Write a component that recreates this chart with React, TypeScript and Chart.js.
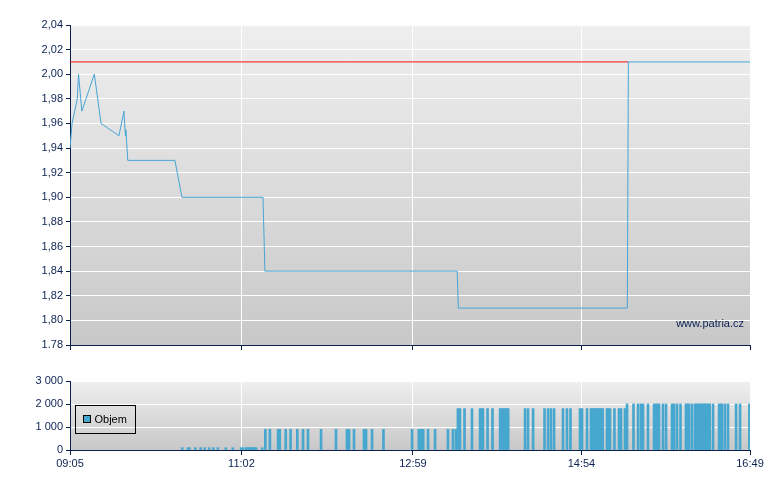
import { useEffect, useRef } from 'react';
import { Chart, registerables } from 'chart.js';

Chart.register(...registerables);

// ---- data ----
// time is expressed in minutes after 09:05
const timeTickMinutes = [0, 117, 234, 349, 464];
const timeTickLabels = ['09:05', '11:02', '12:59', '14:54', '16:49'];

const priceTicks = [1.78, 1.8, 1.82, 1.84, 1.86, 1.88, 1.9, 1.92, 1.94, 1.96, 1.98, 2.0, 2.02, 2.04];
const priceTickLabels = ['1.78', '1,80', '1,82', '1,84', '1,86', '1,88', '1,90', '1,92', '1,94', '1,96', '1,98', '2,00', '2,02', '2,04'];

const volumeTicks = [0, 1000, 2000, 3000];
const volumeTickLabels = ['0', '1 000', '2 000', '3 000'];

const priceTimes = [0, 1.4, 5, 5.8, 8.1, 16.6, 21.2, 33.4, 36.8, 37.8, 38.1, 38.4, 39.4, 71.6, 76.4, 131.7, 133.0, 264.2, 265.0, 380.3, 381.0, 464];
const priceValues = [1.94, 1.96, 1.98, 2.0, 1.97, 2.0, 1.96, 1.95, 1.97, 1.95, 1.955, 1.95, 1.93, 1.93, 1.9, 1.9, 1.84, 1.84, 1.81, 1.81, 2.01, 2.01];

const previousClose = 2.01;

const volumeLabel = 'Objem';
const watermarkText = 'www.patria.cz';

// [minute, volume]
const volumeBars: [number, number][] = [
  [76.6, 100], [80.5, 100], [81.5, 100], [85.5, 100], [89.2, 100], [91.9, 100], [95.0, 100], [97.8, 100],
  [100.9, 100], [106.3, 100], [111.1, 100], [116.8, 100], [117.9, 100], [120, 100], [121, 100], [122, 100],
  [123, 100], [124, 100], [125, 100], [126, 100], [127, 100], [131.2, 100],
  [133.3, 900], [136.4, 900], [142.0, 900], [143.1, 900], [147.2, 900], [150.5, 900], [155.1, 900], [159.0, 900],
  [162.4, 900], [171.3, 900], [181.5, 900], [189.0, 900], [190.4, 900], [193.8, 900], [200.6, 900], [202.0, 900],
  [206.1, 900], [213.9, 900], [233.4, 900], [238, 900], [239, 900], [240, 900], [241, 900], [244.3, 900],
  [249.1, 900], [257.9, 900], [261.3, 900], [263.4, 900],
  [264.7, 1800], [266.1, 1800], [269.2, 1800], [274.3, 1800], [279.8, 1800], [280.8, 1800], [281.8, 1800], [284.9, 1800],
  [288.3, 1800], [293.5, 1800], [294.6, 1800], [295.7, 1800], [296.8, 1800], [297.9, 1800], [299.0, 1800], [310.5, 1800],
  [312.5, 1800], [316.0, 1800], [323.8, 1800], [326.2, 1800], [328.2, 1800], [330.3, 1800], [336.4, 1800], [339.1, 1800],
  [341.5, 1800], [348.0, 1800], [349.4, 1800], [352.8, 1800], [355.5, 1800], [356.5, 1800], [357.5, 1800], [358.5, 1800],
  [359.5, 1800], [360.5, 1800], [361.5, 1800], [362.5, 1800], [363.5, 1800], [366.4, 1800], [367.4, 1800], [368.5, 1800],
  [371.5, 1800], [374.6, 1800], [376.0, 1800], [378.7, 1800],
  [380.1, 2000], [384.5, 2000], [387.6, 2000], [389.6, 2000], [391.0, 2000], [394.4, 2000], [398.5, 2000], [399.6, 2000],
  [400.8, 2000], [401.9, 2000], [404.6, 2000], [406.7, 2000], [410.8, 2000], [412.2, 2000], [414.2, 2000], [416.6, 2000],
  [420.3, 2000], [421.3, 2000], [422.4, 2000], [424.4, 2000], [426.5, 2000], [427.5, 2000], [428.5, 2000], [429.5, 2000],
  [430.5, 2000], [431.5, 2000], [432.5, 2000], [433.5, 2000], [434.5, 2000], [435.5, 2000], [436.5, 2000], [438.8, 2000],
  [442.9, 2000], [443.9, 2000], [444.9, 2000], [446.9, 2000], [449.0, 2000], [454.5, 2000], [457.2, 2000], [463.6, 2000],
];

// ---- style ----
const FONT_FAMILY = "'Liberation Sans', Arial, sans-serif";
const TEXT = '#0c2252';
const AXIS = '#0a1f4e';
const LINE_BLUE = '#48a5d6';
const BAR_BLUE = '#47a7cf';
const RED = '#f01010';

const bgPlugin = {
  id: 'bgGradient',
  beforeDraw(chart: any) {
    const { ctx, chartArea } = chart;
    if (!chartArea) return;
    const g = ctx.createLinearGradient(0, chartArea.top, 0, chartArea.bottom);
    g.addColorStop(0, '#efefef');
    g.addColorStop(1, '#c8c8c8');
    ctx.save();
    ctx.fillStyle = g;
    ctx.fillRect(chartArea.left, chartArea.top, chartArea.right - chartArea.left, chartArea.bottom - chartArea.top);
    ctx.restore();
  },
};

const watermarkPlugin = {
  id: 'watermark',
  afterDraw(chart: any) {
    const { ctx, chartArea } = chart;
    ctx.save();
    ctx.font = `11px ${FONT_FAMILY}`;
    ctx.fillStyle = TEXT;
    ctx.textAlign = 'right';
    ctx.textBaseline = 'alphabetic';
    ctx.fillText(watermarkText, chartArea.right - 6, chartArea.bottom - 18);
    ctx.restore();
  },
};

const boxLegendPlugin = {
  id: 'boxLegend',
  afterDraw(chart: any) {
    const { ctx, chartArea } = chart;
    const ds = chart.data.datasets[0];
    const x = Math.round(chartArea.left) + 5.5;
    const y = Math.round(chartArea.top) + 24.5;
    ctx.save();
    ctx.strokeStyle = '#000';
    ctx.lineWidth = 1;
    ctx.strokeRect(x, y, 60, 28);
    ctx.fillStyle = ds.backgroundColor;
    ctx.fillRect(x + 8, y + 10, 7, 7);
    ctx.strokeRect(x + 8, y + 10, 7, 7);
    ctx.font = `11px ${FONT_FAMILY}`;
    ctx.fillStyle = '#000';
    ctx.textAlign = 'left';
    ctx.textBaseline = 'middle';
    ctx.fillText(ds.label, x + 19, y + 14);
    ctx.restore();
  },
};

const font = { family: FONT_FAMILY, size: 11 };
const tMin = timeTickMinutes[0];
const tMax = timeTickMinutes[timeTickMinutes.length - 1];
// the reference line is visible until the price climbs back to it
const lastBelow = priceValues.map((v) => v < previousClose).lastIndexOf(true);
const refEnd = lastBelow >= 0 && lastBelow + 1 < priceTimes.length ? priceTimes[lastBelow + 1] : tMax;

export default function App() {
  const topRef = useRef<HTMLCanvasElement>(null);
  const botRef = useRef<HTMLCanvasElement>(null);

  useEffect(() => {
    const topChart = new Chart(topRef.current as HTMLCanvasElement, {
      type: 'line',
      data: {
        datasets: [
          {
            label: 'Cena',
            data: priceTimes.map((t, i) => ({ x: t, y: priceValues[i] })),
            borderColor: LINE_BLUE,
            borderWidth: 1,
            pointRadius: 0,
            tension: 0,
            fill: false,
          },
          {
            label: 'Reference',
            data: [
              { x: tMin, y: previousClose },
              { x: refEnd, y: previousClose },
            ],
            borderColor: RED,
            borderWidth: 1,
            pointRadius: 0,
            fill: false,
          },
        ],
      },
      options: {
        animation: false,
        responsive: false,
        maintainAspectRatio: false,
        events: [],
        layout: { padding: { top: 25, right: 30, left: 0, bottom: 0 } },
        plugins: { legend: { display: false }, tooltip: { enabled: false } },
        scales: {
          x: {
            type: 'linear',
            min: tMin,
            max: tMax,
            offset: false,
            afterBuildTicks: (s: any) => {
              s.ticks = timeTickMinutes.map((v) => ({ value: v }));
            },
            afterFit: (s: any) => {
              s.height = 15;
            },
            ticks: { display: false },
            grid: { color: '#ffffff', tickColor: AXIS, tickLength: 5, lineWidth: 1, offset: false },
            border: { color: AXIS, width: 1 },
          },
          y: {
            type: 'linear',
            min: priceTicks[0],
            max: priceTicks[priceTicks.length - 1],
            afterBuildTicks: (s: any) => {
              s.ticks = priceTicks.map((v) => ({ value: v }));
            },
            afterFit: (s: any) => {
              s.width = 70;
            },
            ticks: {
              autoSkip: false,
              color: TEXT,
              font,
              padding: 3,
              callback: (_v: any, i: number) => priceTickLabels[i],
            },
            grid: { color: '#ffffff', tickColor: AXIS, tickLength: 4, lineWidth: 1 },
            border: { color: AXIS, width: 1 },
          },
        },
      },
      plugins: [bgPlugin, watermarkPlugin],
    } as any);

    const botChart = new Chart(botRef.current as HTMLCanvasElement, {
      type: 'bar',
      data: {
        datasets: [
          {
            label: volumeLabel,
            data: volumeBars.map(([t, v]) => ({ x: t, y: v })),
            backgroundColor: BAR_BLUE,
            borderWidth: 0,
            barThickness: 2,
          },
        ],
      },
      options: {
        animation: false,
        responsive: false,
        maintainAspectRatio: false,
        events: [],
        layout: { padding: { top: 21, right: 30, left: 0, bottom: 0 } },
        plugins: { legend: { display: false }, tooltip: { enabled: false } },
        scales: {
          x: {
            type: 'linear',
            min: tMin,
            max: tMax,
            offset: false,
            afterBuildTicks: (s: any) => {
              s.ticks = timeTickMinutes.map((v) => ({ value: v }));
            },
            afterFit: (s: any) => {
              s.height = 40;
            },
            ticks: {
              autoSkip: false,
              maxRotation: 0,
              color: TEXT,
              font,
              padding: 2,
              callback: (_v: any, i: number) => timeTickLabels[i],
            },
            grid: { color: '#ffffff', tickColor: AXIS, tickLength: 5, lineWidth: 1, offset: false },
            border: { color: AXIS, width: 1 },
          },
          y: {
            type: 'linear',
            min: volumeTicks[0],
            max: volumeTicks[volumeTicks.length - 1],
            afterBuildTicks: (s: any) => {
              s.ticks = volumeTicks.map((v) => ({ value: v }));
            },
            afterFit: (s: any) => {
              s.width = 70;
            },
            ticks: {
              autoSkip: false,
              color: TEXT,
              font,
              padding: 3,
              callback: (_v: any, i: number) => volumeTickLabels[i],
            },
            grid: { color: '#ffffff', tickColor: AXIS, tickLength: 4, lineWidth: 1 },
            border: { color: AXIS, width: 1 },
          },
        },
      },
      plugins: [bgPlugin, boxLegendPlugin],
    } as any);

    return () => {
      topChart.destroy();
      botChart.destroy();
    };
  }, []);

  return (
    <div style={{ position: 'absolute', left: 0, top: 0, width: 780, height: 490, background: '#ffffff' }}>
      <canvas
        ref={topRef}
        width={780}
        height={360}
        style={{ position: 'absolute', left: 0, top: 0, width: 780, height: 360 }}
      />
      <canvas
        ref={botRef}
        width={780}
        height={130}
        style={{ position: 'absolute', left: 0, top: 360, width: 780, height: 130 }}
      />
    </div>
  );
}
